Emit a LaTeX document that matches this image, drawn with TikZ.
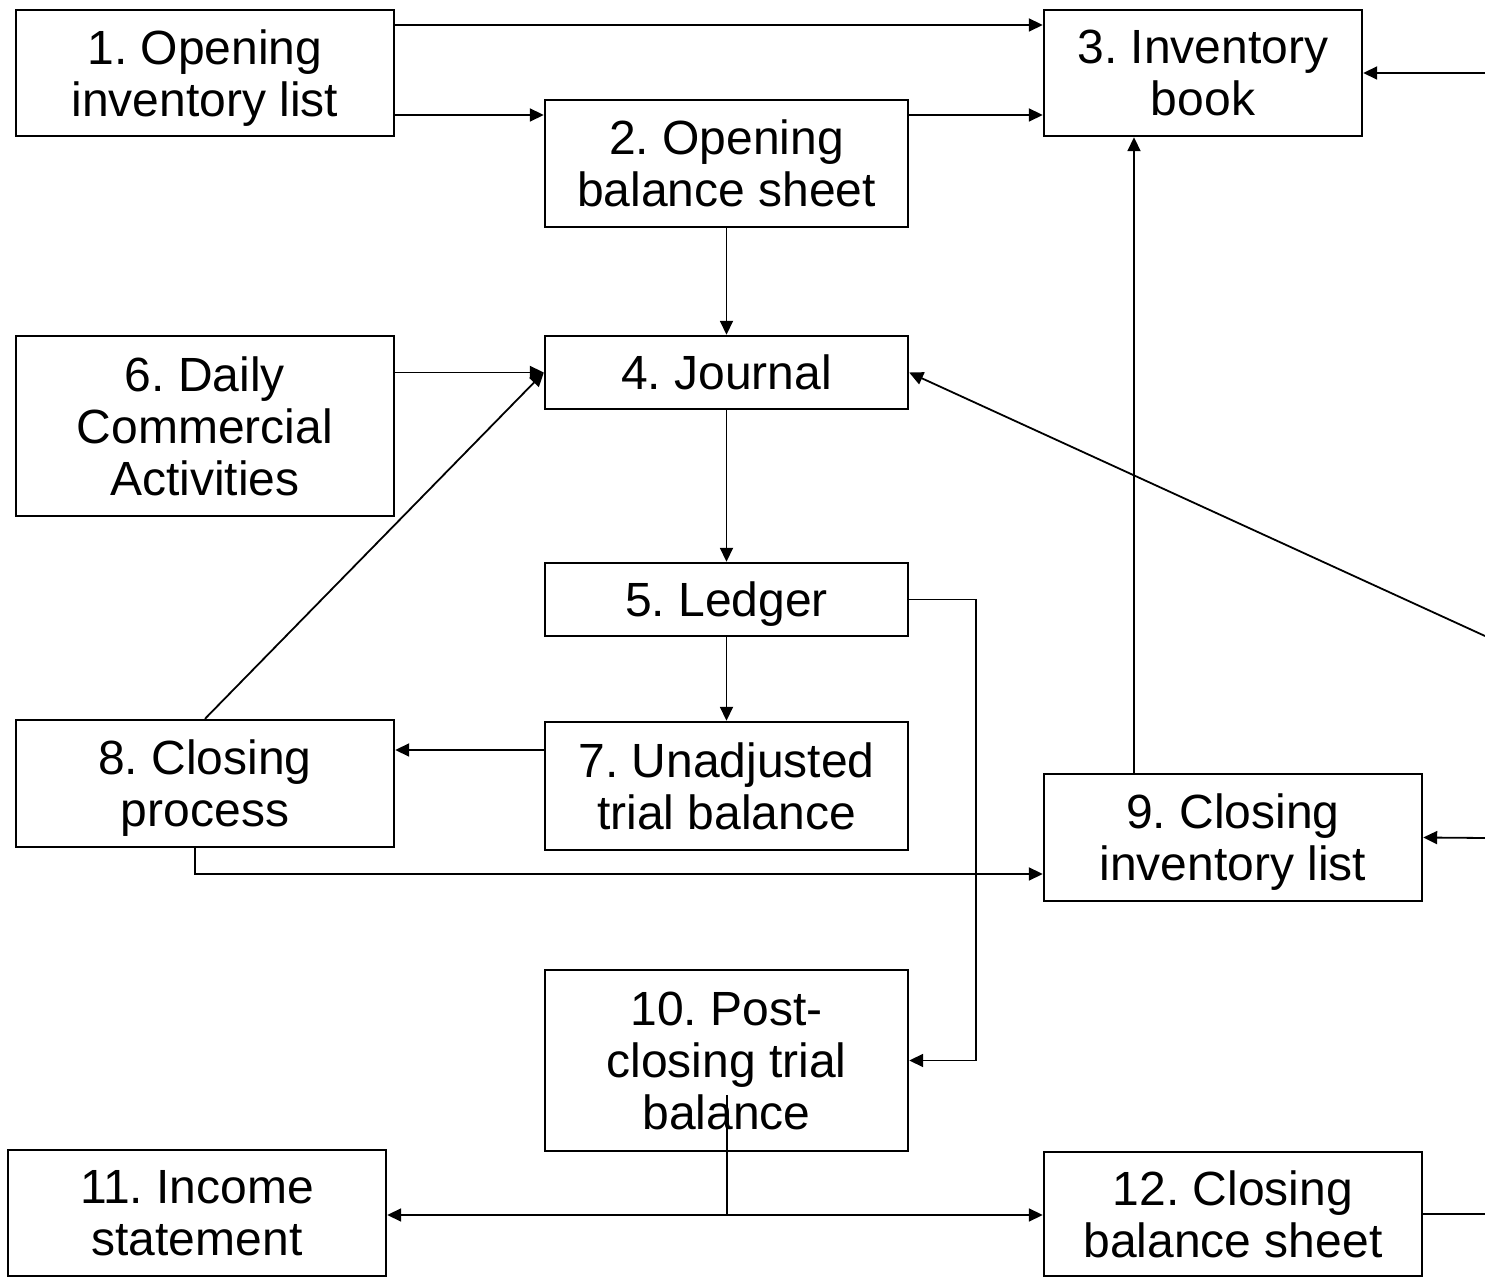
\documentclass[tikz,border=0pt]{standalone}
\usepackage{fontspec}
\setmainfont{Liberation Sans}
\usetikzlibrary{arrows.meta}
\frenchspacing
\begin{document}
\begin{tikzpicture}[x=0.5pt,y=-0.5pt,
  box/.style={draw, line width=1.2pt, align=center, inner sep=0pt, text depth=0pt,
    font=\frenchspacing\fontsize{24}{26}\selectfont},
  conn/.style={line width=0.9pt, -{Triangle[length=7pt,width=6.5pt]}},
  plain/.style={line width=0.9pt}]
\useasboundingbox (0,0) rectangle (1485,1277);
\node[box, minimum width=189pt, minimum height=63pt] (n1) at (205,73) {1. Opening\\inventory list};
\node[box, minimum width=159pt, minimum height=63pt] (n3) at (1203,73) {3. Inventory\\book};
\node[box, minimum width=181.5pt, minimum height=63.5pt] (n2) at (726.5,163.5) {2. Opening\\balance sheet};
\node[box, minimum width=189pt, minimum height=90pt] (n6) at (205,426) {6. Daily\\Commercial\\Activities};
\node[box, minimum width=181.5pt, minimum height=36.5pt] (n4) at (726.5,372.5) {4. Journal};
\node[box, minimum width=181.5pt, minimum height=36.5pt] (n5) at (726.5,599.5) {5. Ledger};
\node[box, minimum width=189pt, minimum height=63.5pt] (n8) at (205,783.5) {8. Closing\\process};
\node[box, minimum width=181.5pt, minimum height=64pt] (n7) at (726.5,786) {7. Unadjusted\\trial balance};
\node[box, minimum width=189pt, minimum height=63.5pt] (n9) at (1233,837.5) {9. Closing\\inventory list};
\node[box, minimum width=181.5pt, minimum height=90.5pt] (n10) at (726.5,1060.5) {10. Post-\\closing trial\\balance};
\node[box, minimum width=189pt, minimum height=63pt] (n11) at (197,1213) {11. Income\\statement};
\node[box, minimum width=189pt, minimum height=62pt] (n12) at (1233,1214) {12. Closing\\balance sheet};

\coordinate (p13) at (0,25);
\coordinate (p12) at (0,115);
\coordinate (r3) at (1485,73);
\coordinate (r4) at (1485,636);
\coordinate (r9) at (1485,838);
\coordinate (r12) at (1485,1214);
\coordinate (k) at (976,0);
\coordinate (p78) at (0,750);
\coordinate (p89) at (0,874);
\coordinate (p93) at (1134,0);
\coordinate (s8) at (195,0);
\coordinate (s10) at (727,1095);
\coordinate (j) at (727,1215);

\draw[conn] (p13 -| n1.east) -- (p13 -| n3.west);
\draw[conn] (p12 -| n1.east) -- (p12 -| n2.west);
\draw[conn] (p12 -| n2.east) -- (p12 -| n3.west);
\draw[conn] (r3) -- (n3.east);
\draw[conn] (n2.south) -- (n4.north);
\draw[conn] (n4.west -| n6.east) -- (n4.west);
\draw[conn] (n8.north) -- (n4.west);
\draw[conn] (r4) -- (n4.east);
\draw[conn] (n4.south) -- (n5.north);
\draw[conn] (n5.east) -- (n5.east -| k) -- (n10.east -| k) -- (n10.east);
\draw[conn] (n5.south) -- (n7.north);
\draw[conn] (p78 -| n7.west) -- (p78 -| n8.east);
\draw[conn] (s8 |- n8.south) -- (s8 |- p89) -- (p89 -| n9.west);
\draw[conn] (r9) -- (n9.east);
\draw[conn] (p93 |- n9.north) -- (p93 |- n3.south);
\draw[plain] (s10) -- (j);
\draw[conn] (j) -- (j -| n11.east);
\draw[conn] (j) -- (j -| n12.west);
\draw[plain] (n12.east) -- (r12);
\end{tikzpicture}
\end{document}
